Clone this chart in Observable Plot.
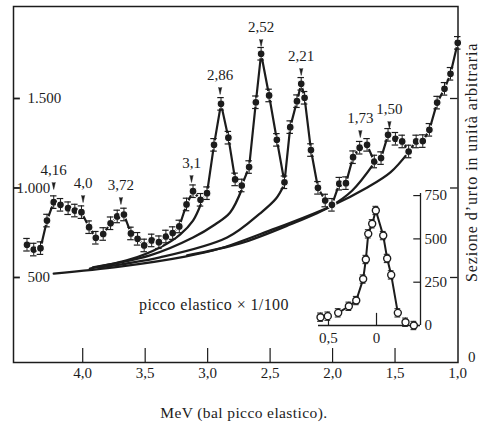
<!DOCTYPE html>
<html>
<head>
<meta charset="utf-8">
<script src="https://cdn.jsdelivr.net/npm/d3@7"></script>
<script src="https://cdn.jsdelivr.net/npm/@observablehq/plot@0.6"></script>
<style>
  html, body { margin: 0; padding: 0; background: #ffffff; }
  #wrap { position: relative; width: 485px; height: 425px; }
  #wrap svg { position: absolute; background: transparent; }
</style>
</head>
<body>
<div id="wrap"></div>
<script>
// ---------- main spectrum (MeV from elastic peak, cross section, arbitrary units) ----------
const energyMeV = [4.446, 4.392, 4.338, 4.286, 4.232, 4.178, 4.117, 4.063, 4.010, 3.949,
  3.895, 3.836, 3.777, 3.724, 3.670, 3.614, 3.561, 3.508, 3.448, 3.390,
  3.334, 3.280, 3.227, 3.169, 3.117, 3.057, 3.005, 2.949, 2.893, 2.834,
  2.780, 2.727, 2.668, 2.614, 2.572, 2.508, 2.446, 2.385, 2.339, 2.285,
  2.251, 2.224, 2.173, 2.117, 2.059, 2.005, 1.946, 1.893, 1.836, 1.783,
  1.724, 1.666, 1.612, 1.556, 1.497, 1.443, 1.391, 1.331, 1.278, 1.225,
  1.163, 1.104, 1.056, 0.998];
const crossSection = [683, 656, 664, 818, 921, 906, 887, 874, 865, 781,
  722, 743, 803, 841, 852, 746, 716, 679, 707, 697,
  729, 748, 785, 908, 982, 934, 971, 1241, 1470, 1281,
  1048, 1014, 1117, 1479, 1750, 1517, 1269, 1032, 1340, 1485,
  1582, 1504, 1212, 1001, 930, 906, 1024, 1027, 1172, 1225,
  1241, 1148, 1167, 1297, 1275, 1260, 1204, 1260, 1262, 1325,
  1477, 1554, 1638, 1811];
const errorHalf = 35;

// ---------- background curves under the peaks ----------
const baseE = [4.232, 3.703, 3.181, 2.901, 2.500, 2.018, 1.722, 1.537, 1.393];
const baseV = [522, 561, 617, 662, 763, 897, 1003, 1087, 1199];
const curve1E = [3.943, 3.622, 3.382, 3.221, 3.117, 3.053];
const curve1V = [550, 601, 668, 740, 818, 913];
const curve2E = [3.919, 3.462, 3.117, 2.941, 2.820, 2.724];
const curve2V = [556, 623, 723, 796, 863, 997];
const curve3E = [3.863, 3.382, 2.844, 2.580, 2.452, 2.395];
const curve3V = [556, 612, 723, 858, 941, 1008];
const curve4E = [3.165, 2.740, 2.339, 2.018, 1.842, 1.666];
const curve4V = [623, 690, 796, 897, 986, 1140];

// ---------- peak labels ----------
const peakLabels = ["4,16", "4,0", "3,72", "3,1", "2,86", "2,52", "2,21", "1,73", "1,50"];
const peakE = [4.232, 3.997, 3.694, 3.129, 2.900, 2.572, 2.251, 1.778, 1.545];
const peakMarkV = [1031, 958, 947, 1070, 1562, 1830, 1668, 1321, 1372];

// ---------- axes ----------
const xTickMarks = [4.0, 3.5, 3.0, 2.5, 2.0, 1.5];
const xTickLabels = [4.0, 3.5, 3.0, 2.5, 2.0, 1.5, 1.0];
const yTicksLeft = [500, 1000, 1500];
const yTicksRight = [500, 1000, 1500];
const xTitle = "MeV (bal picco elastico).";
const yTitle = "Sezione d\u2019urto in unità arbitraria";
const insetNote = "picco elastico \u00d7 1/100";

// ---------- inset: elastic peak (x 1/100) ----------
const insetE = [0.583, 0.507, 0.399, 0.288, 0.211, 0.139, 0.111, 0.086, 0.045, 0.007,
  -0.070, -0.111, -0.153, -0.222, -0.302, -0.389];
const insetV = [48, 54, 73, 111, 144, 268, 381, 529, 587, 664,
  519, 387, 292, 73, 19, 0];
const insetErr = 24;
const insetYTicks = [0, 250, 500, 750];
const insetXTicks = [0.5, 0];

// ---------- build tables ----------
const pts = energyMeV.map((e, i) => ({e, v: crossSection[i]}));
const mk = (E, V, name) => E.map((e, i) => ({e, v: V[i], name}));
const curves = [
  ...mk(baseE, baseV, "base"), ...mk(curve1E, curve1V, "c1"), ...mk(curve2E, curve2V, "c2"),
  ...mk(curve3E, curve3V, "c3"), ...mk(curve4E, curve4V, "c4")
];
const peaks = peakLabels.map((t, i) => ({t, e: peakE[i], v: peakMarkV[i]}));
const ins = insetE.map((e, i) => ({e, v: insetV[i]}));

const itFmt = d3.formatLocale({decimal: ",", thousands: ".", grouping: [3], currency: ["", "€"]}).format(",");
const commaFmt = d => d.toFixed(1).replace(".", ",");

const X0 = 4.554, X1 = 0.996, Y0 = 25, Y1 = 2014;
const font = "Liberation Serif, Times New Roman, serif";
const ink = "#1c1c1c";

const main = Plot.plot({
  width: 485, height: 425,
  marginLeft: 13, marginRight: 27.5, marginTop: 6, marginBottom: 63,
  x: {domain: [X0, X1], axis: null},
  y: {domain: [Y0, Y1], axis: null},
  style: {fontFamily: font, fontSize: "15px", color: ink, background: "transparent"},
  marks: [
    Plot.frame({stroke: ink, strokeWidth: 1.5}),
    // ticks
    Plot.ruleX(xTickMarks, {x: d => d, y1: Y0, y2: Y0 + 78, stroke: ink, strokeWidth: 1.2}),
    Plot.ruleY(yTicksLeft, {y: d => d, x1: X0, x2: X0 - 0.055, stroke: ink, strokeWidth: 1.8}),
    Plot.ruleY(yTicksRight, {y: d => d, x1: X1, x2: X1 + 0.06, stroke: ink, strokeWidth: 1.3}),
    Plot.text(xTickLabels, {x: d => d, frameAnchor: "bottom", lineAnchor: "middle", dy: 11, text: commaFmt, fill: ink, fontSize: 15}),
    Plot.text([1500, 500], {y: d => d, frameAnchor: "left", dx: 14, textAnchor: "start", text: itFmt, fill: ink, fontSize: 15}),
    Plot.text([1000], {y: d => d, frameAnchor: "left", dx: 3, textAnchor: "start", text: itFmt, fill: ink, fontSize: 15}),
    Plot.text(["0"], {frameAnchor: "right", y: 53, dx: 10, textAnchor: "start", text: d => d, fill: ink, fontSize: 15}),
    Plot.text([yTitle], {frameAnchor: "right", textAnchor: "middle", lineAnchor: "middle", y: 1143, dx: 14, rotate: -90, text: d => d, fill: ink, fontSize: 16}),
    Plot.text([xTitle], {frameAnchor: "bottom", lineAnchor: "middle", x: 2.71, dy: 51, text: d => d, fill: ink, fontSize: 15.5}),
    Plot.text([insetNote], {x: 2.949, y: 349, text: d => d, fill: ink, fontSize: 16}),
    // background curves
    Plot.line(curves, {x: "e", y: "v", z: "name", curve: "catmull-rom", stroke: ink, strokeWidth: 2.3}),
    // data line
    Plot.line(pts, {x: "e", y: "v", stroke: ink, strokeWidth: 2.2}),
    Plot.dot(pts, {x: "e", y: "v", r: 4, fill: ink, stroke: "white", strokeWidth: 1.3}),
    Plot.ruleX(pts, {x: "e", y1: d => d.v - errorHalf, y2: d => d.v + errorHalf, stroke: ink, strokeWidth: 1}),
    Plot.ruleY(pts, {y: d => d.v + errorHalf, x1: d => d.e + 0.026, x2: d => d.e - 0.026, stroke: ink, strokeWidth: 1.2}),
    Plot.ruleY(pts, {y: d => d.v - errorHalf, x1: d => d.e + 0.026, x2: d => d.e - 0.026, stroke: ink, strokeWidth: 1.2}),
    // peak markers and labels
    Plot.vector(peaks, {x: "e", y: "v", length: 7, rotate: 180, anchor: "start", shape: "spike", r: 1.6, fill: ink, stroke: ink, strokeWidth: 0.5}),
    Plot.text(peaks, {x: "e", y: "v", text: "t", dy: -12, fill: ink, fontSize: 15})
  ]
});
main.style.left = "0px";
main.style.top = "0px";
// book typography: the vertical title and notes are letter-spaced
d3.select(main).selectAll("text")
  .filter(function () { return this.textContent === yTitle; })
  .attr("letter-spacing", "0.9px");
d3.select(main).selectAll("text")
  .filter(function () { return this.textContent === insetNote || this.textContent === xTitle; })
  .attr("letter-spacing", "0.4px");

const IX0 = 0.604, IX1 = -0.458;
const inset = Plot.plot({
  width: 160, height: 175,
  marginLeft: 18, marginRight: 40, marginTop: 13, marginBottom: 30,
  x: {domain: [IX0, IX1], axis: null},
  y: {domain: [0, 762], axis: null},
  style: {fontFamily: font, fontSize: "15px", color: ink, background: "transparent"},
  marks: [
    Plot.ruleY([0], {stroke: ink, strokeWidth: 1.3}),
    Plot.ruleX([IX1], {stroke: ink, strokeWidth: 1.3}),
    Plot.ruleY(insetYTicks, {y: d => d, x1: IX1, x2: IX1 + 0.07, stroke: ink, strokeWidth: 1.2}),
    Plot.ruleX(insetXTicks, {x: d => d, y1: 0, y2: 70, stroke: ink, strokeWidth: 1.2}),
    Plot.text(insetYTicks, {y: d => d, frameAnchor: "right", dx: 4, textAnchor: "start", text: d => String(d), fill: ink, fontSize: 15}),
    Plot.text(insetXTicks, {x: d => d, frameAnchor: "bottom", lineAnchor: "middle", dy: 13, text: d => d === 0 ? "0" : commaFmt(d), fill: ink, fontSize: 15}),
    Plot.line(ins.slice(2, 14), {x: "e", y: "v", stroke: ink, strokeWidth: 2}),
    Plot.ruleX(ins, {x: "e", y1: d => d.v - insetErr, y2: d => d.v + insetErr, stroke: ink, strokeWidth: 1}),
    Plot.ruleY(ins, {y: d => d.v + insetErr, x1: d => d.e + 0.03, x2: d => d.e - 0.03, stroke: ink, strokeWidth: 1}),
    Plot.ruleY(ins, {y: d => d.v - insetErr, x1: d => d.e + 0.03, x2: d => d.e - 0.03, stroke: ink, strokeWidth: 1}),
    Plot.dot(ins, {x: "e", y: "v", r: 3.5, fill: "white", stroke: ink, strokeWidth: 1.4})
  ]
});
inset.style.left = "300px";
inset.style.top = "180px";

const wrap = document.getElementById("wrap");
wrap.appendChild(main);
wrap.appendChild(inset);
</script>
</body>
</html>
